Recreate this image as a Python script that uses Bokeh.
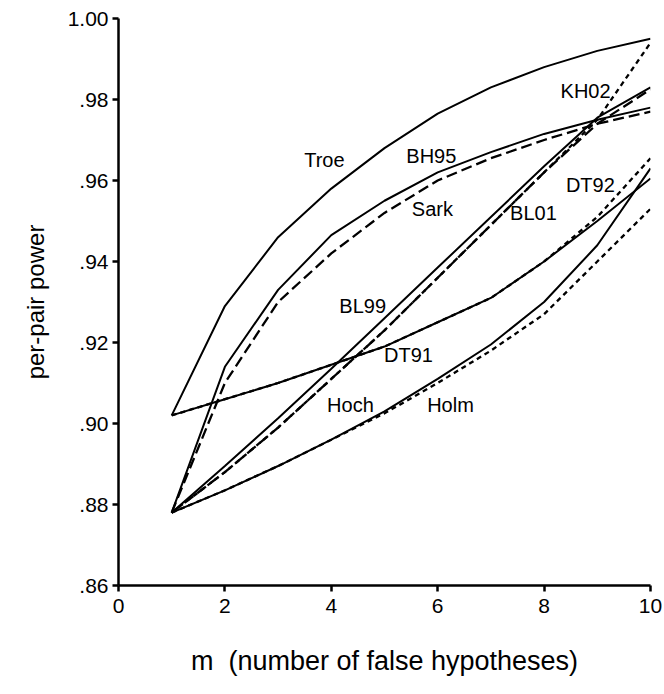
from bokeh.plotting import figure
from bokeh.models import FixedTicker, CustomJSTickFormatter, Range1d
from bokeh.core.properties import value
from bokeh.embed import file_html
from bokeh.resources import INLINE

m = [1, 2, 3, 4, 5, 6, 7, 8, 9, 10]

troe = [0.902, 0.929, 0.946, 0.958, 0.968, 0.9765, 0.983, 0.988, 0.992, 0.995]
bh95 = [0.878, 0.914, 0.933, 0.9465, 0.955, 0.962, 0.967, 0.9715, 0.975, 0.978]
sark = [0.878, 0.910, 0.930, 0.942, 0.952, 0.960, 0.9655, 0.970, 0.974, 0.977]
bl99 = [0.878, 0.8895, 0.9013, 0.9135, 0.926, 0.9385, 0.951, 0.9635, 0.9755, 0.983]
bl01 = [0.878, 0.888, 0.899, 0.911, 0.923, 0.936, 0.949, 0.962, 0.974, 0.9825]
kh02 = [0.878, 0.888, 0.899, 0.911, 0.923, 0.936, 0.949, 0.962, 0.975, 0.994]
dt91 = [0.902, 0.906, 0.910, 0.9145, 0.919, 0.925, 0.931, 0.940, 0.950, 0.9605]
dt92 = [0.902, 0.906, 0.910, 0.9145, 0.919, 0.925, 0.931, 0.940, 0.951, 0.9655]
hoch = [0.878, 0.8835, 0.8895, 0.896, 0.903, 0.911, 0.9195, 0.930, 0.944, 0.963]
holm = [0.878, 0.8835, 0.8895, 0.896, 0.9025, 0.910, 0.918, 0.927, 0.940, 0.953]

label_text = ["Troe", "BH95", "Sark", "KH02", "DT92", "BL01", "BL99", "DT91", "Hoch", "Holm"]
label_x = [3.87, 5.88, 5.9, 8.78, 8.87, 7.8, 4.59, 5.45, 4.36, 6.24]
label_y = [0.965, 0.966, 0.953, 0.982, 0.959, 0.952, 0.929, 0.917, 0.9045, 0.9045]

x_ticks = [0, 2, 4, 6, 8, 10]
y_ticks = [0.86, 0.88, 0.90, 0.92, 0.94, 0.96, 0.98, 1.00]

p = figure(width=664, height=694, output_backend="svg", toolbar_location=None,
           x_range=Range1d(0, 10), y_range=Range1d(0.86, 1.00),
           min_border_left=118, min_border_right=14, min_border_top=18, min_border_bottom=109)
p.outline_line_color = None
p.grid.visible = False
p.background_fill_color = "white"
p.border_fill_color = "white"

styles = [
    (troe, None), (bh95, None), (sark, "11 5"), (bl99, None), (bl01, "11 5"),
    (kh02, "5 4"), (dt91, None), (dt92, "5 4"), (hoch, None), (holm, "5 4"),
]
for ys, dash in styles:
    if dash is None:
        p.line(m, ys, line_color="black", line_width=2)
    else:
        p.line(m, ys, line_color="black", line_width=2.3, line_dash=dash)

p.text(x=label_x, y=label_y, text=label_text, text_align="center", text_baseline="middle",
       text_font=value("Liberation Sans"), text_font_size="20px", text_color="black")

for ax in (p.xaxis[0], p.yaxis[0]):
    ax.axis_line_width = 2.5
    ax.axis_line_color = "black"
    ax.major_tick_line_width = 2.5
    ax.major_tick_out = 6
    ax.major_tick_in = 0
    ax.minor_tick_line_color = None
    ax.major_label_text_font = "Liberation Sans"
    ax.major_label_text_font_size = "21px"
    ax.major_label_text_color = "black"
    ax.axis_label_text_font = "Liberation Sans"
    ax.axis_label_text_font_style = "normal"
    ax.axis_label_text_color = "black"

p.xaxis[0].axis_label_text_font_size = "27px"
p.yaxis[0].axis_label_text_font_size = "24px"
p.xaxis[0].ticker = FixedTicker(ticks=x_ticks)
p.yaxis[0].ticker = FixedTicker(ticks=y_ticks)
p.yaxis[0].formatter = CustomJSTickFormatter(code="""
    var s = tick.toFixed(2);
    if (s.charAt(0) == '0') { s = s.substring(1); }
    return s;
""")
p.xaxis[0].axis_label = "m\u00a0 (number of false hypotheses)"
p.yaxis[0].axis_label = "per-pair power"
p.xaxis[0].axis_label_standoff = 30
p.yaxis[0].axis_label_standoff = 16
p.xaxis[0].major_label_standoff = 7
p.yaxis[0].major_label_standoff = 4

open("out.html", "w").write(file_html(p, INLINE))
